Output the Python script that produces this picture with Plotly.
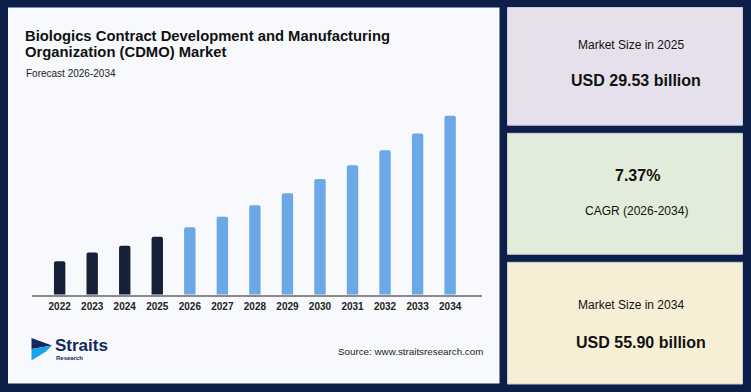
import plotly.graph_objects as go

W, H = 751, 392

years = ["2022", "2023", "2024", "2025", "2026", "2027", "2028",
         "2029", "2030", "2031", "2032", "2033", "2034"]
values = [24.2, 26.1, 27.6, 29.53, 31.6, 33.9, 36.4, 39.0, 42.1, 45.1, 48.4, 52.0, 55.9]
historic_years = ["2022", "2023", "2024", "2025"]

title_lines = ["Biologics Contract Development and Manufacturing",
               "Organization (CDMO) Market"]
subtitle = "Forecast 2026-2034"
source_text = "Source: www.straitsresearch.com"
size_2025 = "USD 29.53 billion"
size_2034 = "USD 55.90 billion"
cagr = "7.37%"
cagr_label = "CAGR (2026-2034)"

NAVY_BG = "#0b1f48"
PANEL = "#f7f9fd"
DARK_BAR = "#172039"
BLUE_BAR = "#6ca8e5"
FONT = "Liberation Sans, Arial, sans-serif"


def px(x):
    return x / W


def py(y):
    return 1 - y / H


colors = [DARK_BAR if y in historic_years else BLUE_BAR for y in years]

fig = go.Figure()
fig.add_trace(go.Bar(
    x=years, y=values, marker=dict(color=colors, cornerradius=2, line=dict(width=0)),
    width=0.35, hoverinfo="x+y",
))

shapes = []
# left white panel
shapes.append(dict(type="rect", xref="paper", yref="paper",
                   x0=px(8), x1=px(499.5), y0=py(383.5), y1=py(7.5),
                   fillcolor=PANEL, line=dict(width=0), layer="below"))
# right boxes
boxes = [((7.5, 125.2), "#e5e0eb"), ((133.3, 254.3), "#e1ecda"), ((262.3, 384), "#f6efd6")]
for (t, b), c in boxes:
    shapes.append(dict(type="rect", xref="paper", yref="paper",
                       x0=px(507.5), x1=px(742.5), y0=py(b), y1=py(t),
                       fillcolor=c, line=dict(width=1, color="#c9ccd6"), layer="below"))


def path(points):
    return "M " + " L ".join(f"{px(x)},{py(y)}" for x, y in points) + " Z"


# logo
shapes.append(dict(type="path", xref="paper", yref="paper",
                   path=path([(31.5, 338), (52, 345.5), (31.5, 349)]),
                   fillcolor="#14285a", line=dict(width=0)))
shapes.append(dict(type="path", xref="paper", yref="paper",
                   path=path([(31.5, 349), (52, 345.5), (46, 351.5), (31.5, 360.5)]),
                   fillcolor="#1aa3e8", line=dict(width=0)))

annotations = []


def txt(x, y, s, size, bold=False, color="#111111", xanchor="left"):
    annotations.append(dict(
        xref="paper", yref="paper", x=px(x), y=py(y), text=s, showarrow=False,
        xanchor=xanchor, yanchor="middle", borderpad=0,
        font=dict(family=FONT, size=size, color=color, weight="bold" if bold else "normal"),
    ))


txt(24, 35.5, title_lines[0], 14.8, True)
txt(24, 51.5, title_lines[1], 14.8, True)
txt(24.5, 74, subtitle, 10, False, "#222222")
txt(484, 351, source_text, 9.8, False, "#222222", "right")
txt(53.5, 345.5, "Straits", 17, True, "#14285a")
txt(54.5, 357.5, "Research", 6, True, "#14285a")

txt(630.5, 45, "Market Size in 2025", 12, False, "#111111", "center")
txt(635.5, 81, size_2025, 16, True, "#111111", "center")
txt(637.5, 175, cagr, 16, True, "#111111", "center")
txt(636.5, 210.5, cagr_label, 12, False, "#111111", "center")
txt(630.5, 305, "Market Size in 2034", 12, False, "#111111", "center")
txt(640.5, 342, size_2034, 16, True, "#111111", "center")

fig.update_layout(
    width=W, height=H, margin=dict(l=0, r=0, t=0, b=0),
    paper_bgcolor=NAVY_BG, plot_bgcolor="rgba(0,0,0,0)",
    showlegend=False, shapes=shapes, annotations=annotations,
    font=dict(family=FONT),
    xaxis=dict(domain=[px(32), px(481.7)], range=[-0.85, 12.97],
               showline=True, linecolor="#8a8a8a", linewidth=2,
               ticks="", showgrid=False, zeroline=False,
               tickfont=dict(family=FONT, size=10, color="#222222", weight="bold"),
               ticklabelstandoff=1),
    yaxis=dict(domain=[py(294.5), py(110)], range=[16.98, 57.14],
               visible=False, showgrid=False, zeroline=False),
)

fig.write_html("out.html")
